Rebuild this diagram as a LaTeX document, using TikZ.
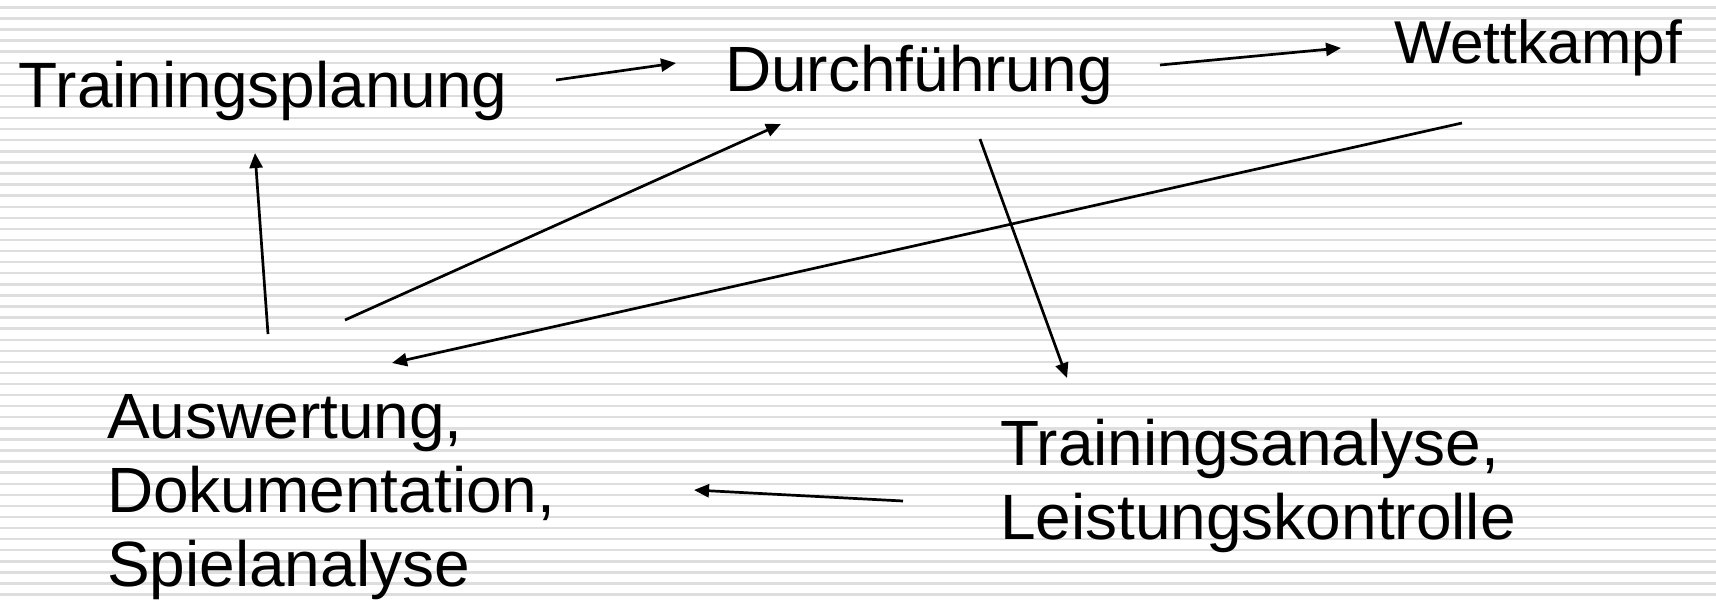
\documentclass[tikz,border=0pt]{standalone}
\usepackage{fontspec}
\setmainfont{Liberation Sans}
\usetikzlibrary{arrows.meta,calc}
\tikzset{
  lbl/.style={inner sep=0pt, outer sep=0pt, anchor=base west, align=left,
    font=\fontsize{64}{74}\selectfont},
  conn/.style={line width=2.7pt, -{Triangle[length=15pt,width=13pt]}},
  stripe/.style={line width=2.4pt, draw=gray!26}
}
\begin{document}
\begin{tikzpicture}[x=1pt,y=-1pt]
\useasboundingbox (0,0) rectangle (1716,603);
\fill[white] (0,0) rectangle (1716,603);
\foreach \i in {0,...,54} {
  \draw[stripe] (0,{7.3+11.08*\i}) -- (1716,{7.3+11.08*\i});
}
\node[lbl] (tp) at (19,107) {Trainingsplanung};
\node[lbl] (du) at (725,91) {Durchführung};
\node[lbl, font=\fontsize{60.5}{74}\selectfont] (wk) at (1394,63) {Wettkampf};
\node[lbl] (au) at (107,586) {Auswertung,\\Dokumentation,\\Spielanalyse};
\node[lbl] (ta) at (1000,539) {Trainingsanalyse,\\Leistungskontrolle};

\draw[conn] ($(tp.base west)+(537,-27)$) -- ($(du.base west)+(-49,-28)$);
\draw[conn] ($(du.base west)+(435,-26)$) -- ($(wk.base west)+(-53,-15)$);
\draw[conn] ($(du.base west)+(255,48)$) -- ($(ta.base west)+(67,-161)$);
\draw[conn] ($(wk.base west)+(68,60)$) -- ($(au.base west)+(285,-223)$);
\draw[conn] ($(au.base west)+(238,-266)$) -- ($(du.base west)+(56,33)$);
\draw[conn] ($(au.base west)+(161,-252)$) -- ($(tp.base west)+(236,46)$);
\draw[conn] ($(ta.base west)+(-97,-38)$) -- ($(au.base west)+(587,-96)$);
\end{tikzpicture}
\end{document}
